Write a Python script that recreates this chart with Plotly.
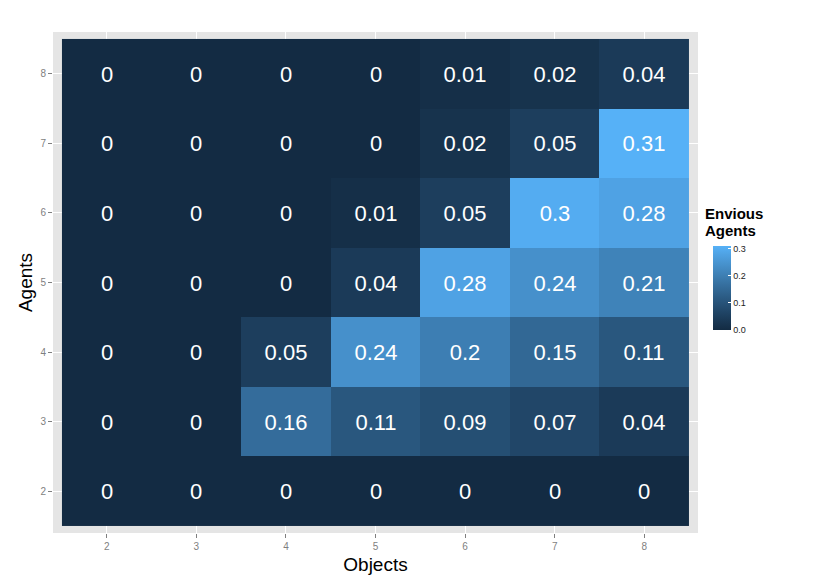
import plotly.graph_objects as go
import numpy as np

objects = [2, 3, 4, 5, 6, 7, 8]
agents = [2, 3, 4, 5, 6, 7, 8]
# rows ordered by agents 2..8, columns by objects 2..8
envy = [
    [0, 0, 0, 0, 0, 0, 0],
    [0, 0, 0.16, 0.11, 0.09, 0.07, 0.04],
    [0, 0, 0.05, 0.24, 0.2, 0.15, 0.11],
    [0, 0, 0, 0.04, 0.28, 0.24, 0.21],
    [0, 0, 0, 0.01, 0.05, 0.3, 0.28],
    [0, 0, 0, 0, 0.02, 0.05, 0.31],
    [0, 0, 0, 0, 0.01, 0.02, 0.04],
]
cbar_ticks = [0.0, 0.1, 0.2, 0.3]
cbar_labels = ["0.0", "0.1", "0.2", "0.3"]
legend_title = ["Envious", "Agents"]

# ggplot-like gradient (#132B43 -> #56B1F7) interpolated in Lab space
def hex2rgb(h):
    h = h.lstrip('#')
    return np.array([int(h[i:i+2], 16) for i in (0, 2, 4)]) / 255.0

def srgb2lin(c):
    return np.where(c <= 0.04045, c / 12.92, ((c + 0.055) / 1.055) ** 2.4)

def lin2srgb(c):
    c = np.clip(c, 0, 1)
    return np.where(c <= 0.0031308, 12.92 * c, 1.055 * c ** (1 / 2.4) - 0.055)

M = np.array([[0.4124, 0.3576, 0.1805], [0.2126, 0.7152, 0.0722], [0.0193, 0.1192, 0.9505]])
Minv = np.linalg.inv(M)
wp = np.array([0.95047, 1.0, 1.08883])

def f(t):
    d = 6 / 29
    return np.where(t > d ** 3, np.cbrt(t), t / (3 * d * d) + 4 / 29)

def finv(t):
    d = 6 / 29
    return np.where(t > d, t ** 3, 3 * d * d * (t - 4 / 29))

def rgb2lab(c):
    xyz = M @ srgb2lin(c) / wp
    fx, fy, fz = f(xyz)
    return np.array([116 * fy - 16, 500 * (fx - fy), 200 * (fy - fz)])

def lab2rgb(lab):
    L, a, b = lab
    fy = (L + 16) / 116
    fx = fy + a / 500
    fz = fy - b / 200
    xyz = np.array([finv(fx), finv(fy), finv(fz)]) * wp
    return lin2srgb(Minv @ xyz)

lo, hi = rgb2lab(hex2rgb("#132B43")), rgb2lab(hex2rgb("#56B1F7"))
colorscale = []
for t in np.linspace(0, 1, 11):
    r, g, b = (lab2rgb(lo + (hi - lo) * t) * 255).round().astype(int)
    colorscale.append([float(t), f"rgb({r},{g},{b})"])

def fmt(v):
    return "0" if v == 0 else f"{v:g}"

text = [[fmt(v) for v in row] for row in envy]
FONT = "Liberation Sans, Arial, sans-serif"

fig = go.Figure(go.Heatmap(
    x=objects, y=agents, z=envy,
    text=text, texttemplate="%{text}",
    textfont=dict(size=22, color="white", family=FONT),
    colorscale=colorscale, zmin=0, zmax=max(max(r) for r in envy),
    hoverinfo="skip",
    colorbar=dict(
        tickvals=cbar_ticks, ticktext=cbar_labels,
        ticks="inside", tickcolor="white", ticklen=3,
        tickfont=dict(size=9, color="#222222", family=FONT),
        thickness=18, lenmode="pixels", len=84,
        x=1.0233, xanchor="left", y=0.405, yanchor="bottom",
        outlinewidth=0, xpad=0, ypad=0,
    ),
))

axis_common = dict(
    tickmode="array", tickvals=objects, ticktext=[str(v) for v in objects],
    ticks="outside", ticklen=4, tickcolor="#7F7F7F",
    tickfont=dict(size=10, color="#7F7F7F", family=FONT),
    showgrid=True, gridcolor="white", gridwidth=1, zeroline=False, showline=False,
    range=[1.4, 8.6],
)

title_ys = [0.6587, 0.6248]
fig.update_layout(
    width=822, height=580,
    margin=dict(l=45, r=132, t=24, b=55),
    paper_bgcolor="white", plot_bgcolor="#E5E5E5",
    font=dict(family=FONT),
    xaxis=dict(axis_common, title=dict(text="Objects", font=dict(size=19, color="black"), standoff=6)),
    yaxis=dict(axis_common, title=dict(text="Agents", font=dict(size=19, color="black"), standoff=2)),
    annotations=[dict(
        text=f"<b>{t}</b>", xref="paper", yref="paper",
        x=1.0078, y=yy, xanchor="left", yanchor="top", align="left",
        showarrow=False, font=dict(size=15, color="black", family=FONT),
    ) for t, yy in zip(legend_title, title_ys)],
)

fig.write_html("out.html")
